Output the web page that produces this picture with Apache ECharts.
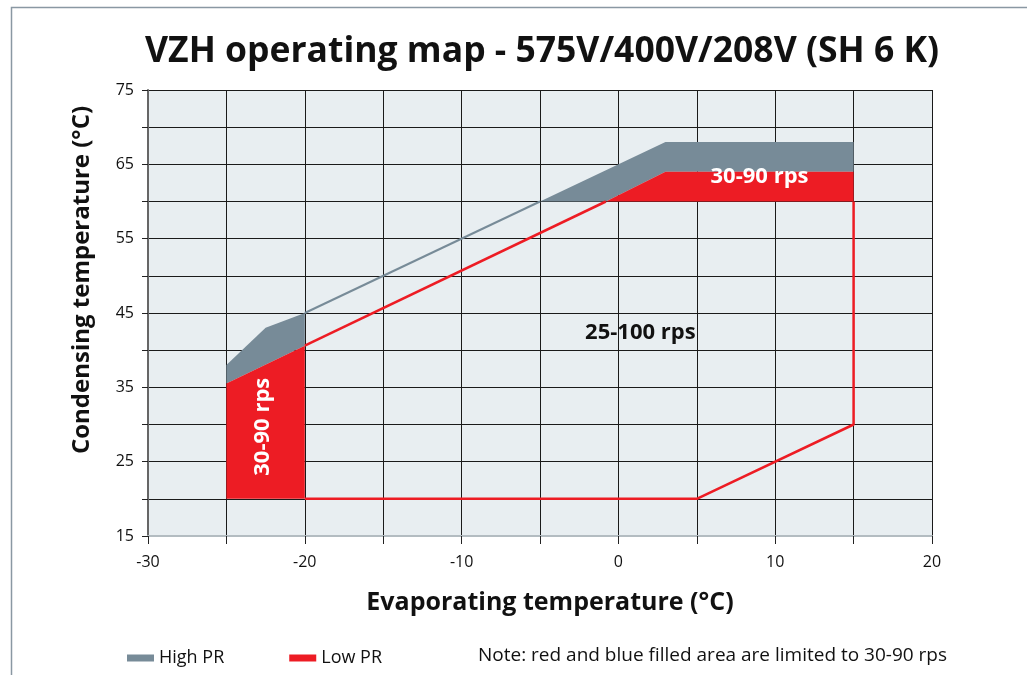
<!DOCTYPE html>
<html>
<head>
<meta charset="utf-8">
<script src="https://cdn.jsdelivr.net/npm/echarts@6/dist/echarts.min.js"></script>
<style>
  html, body { margin: 0; padding: 0; background: #fff; }
  #main { width: 1027px; height: 675px; }
</style>
</head>
<body>
<div id="main"></div>
<script>
// operating envelope (evap °C, cond °C)
const highPrLeft = [[-25, 35.5], [-25, 38], [-22.5, 43], [-20, 45], [-20, 40.6]];
const highPrTop = [[-5, 60], [3, 68], [15, 68], [15, 64], [3, 64], [-0.8, 60]];
const highPrLine = [[-20, 45], [-5, 60]];
const lowPrLeft = [[-25, 20], [-25, 35.5], [-20, 40.6], [-20, 20]];
const lowPrTop = [[-0.8, 60], [3, 64], [15, 64], [15, 60]];
const lowPrUpper = [[-20, 40.6], [-0.8, 60]];
const lowPrOutline = [[-20, 20], [5, 20], [15, 30], [15, 60]];

const xTicks = [-30, -20, -10, 0, 10, 20];
const yTicks = [15, 25, 35, 45, 55, 65, 75];

const labels = [
  { pos: [9, 63.3], text: '30-90 rps', color: '#fff', rot: 0 },
  { pos: [-22.7, 29.7], text: '30-90 rps', color: '#fff', rot: Math.PI / 2 },
  { pos: [1.4, 42.3], text: '25-100 rps', color: '#111', rot: 0 }
];

const GRAY = '#778b98';
const RED = '#ed1c24';
const FONT = '"Open Sans", sans-serif';

function polySeries(name, points, color) {
  return {
    type: 'custom',
    name: name,
    silent: true,
    itemStyle: { color: color },
    data: points,
    renderItem: function (params, api) {
      if (params.dataIndex !== 0) return null;
      return {
        type: 'polygon',
        shape: { points: points.map(p => api.coord(p)) },
        style: { fill: color }
      };
    }
  };
}

function lineSeries(name, points, color, width) {
  return {
    type: 'line',
    name: name,
    silent: true,
    data: points,
    showSymbol: false,
    itemStyle: { color: color },
    lineStyle: { color: color, width: width },
    z: 3
  };
}

const chart = echarts.init(document.getElementById('main'));

chart.setOption({
  animation: false,
  title: {
    text: 'VZH operating map - 575V/400V/208V (SH 6 K)',
    left: 140,
    top: 29,
    textStyle: { fontFamily: FONT, fontWeight: 'bold', fontSize: 35.5, color: '#111' }
  },
  grid: {
    left: 148, right: 95, top: 90, bottom: 139,
    show: true, backgroundColor: '#e8eef1', borderWidth: 0
  },
  xAxis: {
    type: 'value', min: -30, max: 20, interval: 5,
    axisLine: { show: true, onZero: false, lineStyle: { color: '#b3bcc1', width: 2 } },
    axisTick: { show: true, length: 8, lineStyle: { color: '#222' } },
    axisLabel: {
      margin: 18, fontFamily: FONT, fontSize: 16, color: '#111',
      formatter: v => (xTicks.includes(v) ? String(v) : '')
    },
    splitLine: { show: true, lineStyle: { color: '#1a1a1a', width: 1 } }
  },
  yAxis: {
    type: 'value', min: 15, max: 75, interval: 5,
    axisLine: { show: true, onZero: false, lineStyle: { color: '#666', width: 2 } },
    axisTick: { show: true, length: 6, lineStyle: { color: '#222' } },
    axisLabel: {
      margin: 14, fontFamily: FONT, fontSize: 16, color: '#111',
      formatter: v => (yTicks.includes(v) ? String(v) : '')
    },
    splitLine: { show: true, lineStyle: { color: '#1a1a1a', width: 1 } }
  },
  legend: {
    left: 122, top: 644,
    itemWidth: 27, itemHeight: 7, itemGap: 65,
    icon: 'rect',
    data: ['High PR', 'Low PR'],
    textStyle: { fontFamily: FONT, fontSize: 18, color: '#111' }
  },
  graphic: [
    {
      type: 'rect', left: 9, top: 5, silent: true,
      shape: { width: 1100, height: 800 },
      style: { fill: 'none', stroke: '#8a98a3', lineWidth: 1.5 }
    },
    {
      type: 'text', x: 478, y: 656,
      style: { text: 'Note: red and blue filled area are limited to 30-90 rps', font: '19px ' + FONT, fill: '#111', verticalAlign: 'middle' }
    },
    {
      type: 'text', x: 550, y: 603,
      style: { text: 'Evaporating temperature (°C)', font: 'bold 25px ' + FONT, fill: '#111', align: 'center', verticalAlign: 'middle' }
    },
    {
      type: 'text', x: 82, y: 280, rotation: Math.PI / 2,
      style: { text: 'Condensing temperature (°C)', font: 'bold 24px ' + FONT, fill: '#111', align: 'center', verticalAlign: 'middle' }
    }
  ],
  series: [
    lineSeries('High PR', highPrLine, GRAY, 2),
    polySeries('High PR', highPrLeft, GRAY),
    polySeries('High PR', highPrTop, GRAY),
    polySeries('Low PR', lowPrLeft, RED),
    polySeries('Low PR', lowPrTop, RED),
    lineSeries('Low PR', lowPrUpper, RED, 2.5),
    lineSeries('Low PR', lowPrOutline, RED, 2.5),
    {
      type: 'custom',
      silent: true,
      z: 5,
      data: labels.map(l => l.pos),
      renderItem: function (params, api) {
        const l = labels[params.dataIndex];
        const c = api.coord(l.pos);
        return {
          type: 'text', x: c[0], y: c[1], rotation: l.rot,
          style: { text: l.text, fill: l.color, font: 'bold 22px ' + FONT, align: 'center', verticalAlign: 'middle' }
        };
      }
    }
  ]
});
</script>
</body>
</html>
